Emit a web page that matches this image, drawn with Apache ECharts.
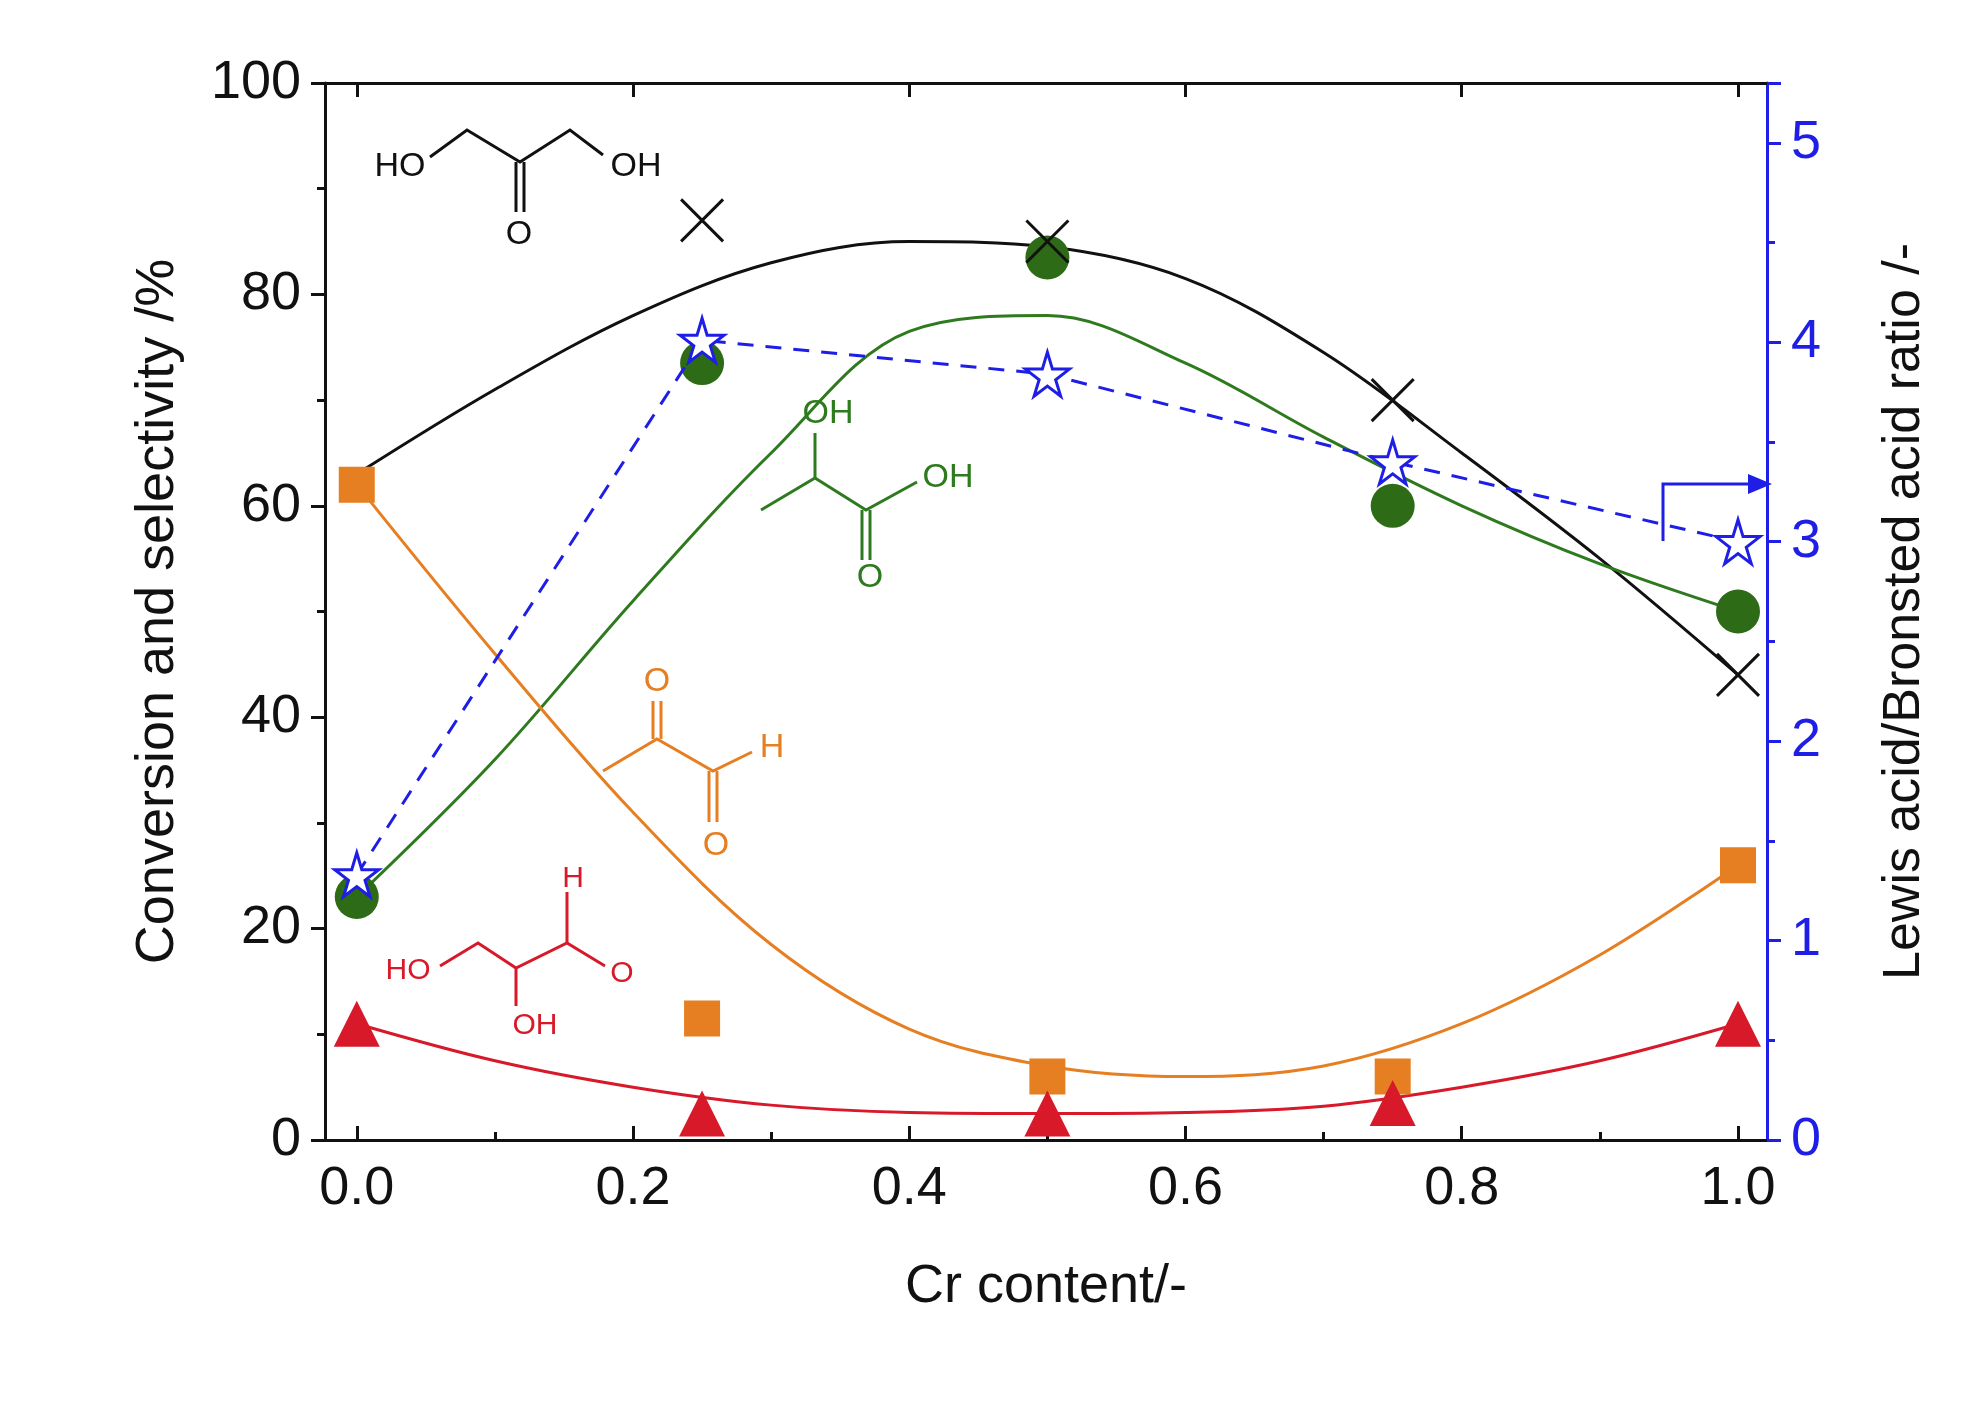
<!DOCTYPE html>
<html><head><meta charset="utf-8">
<script src="https://cdn.jsdelivr.net/npm/echarts@6/dist/echarts.min.js"></script>
<style>html,body{margin:0;background:#fff}#c{width:1988px;height:1410px}</style>
</head><body><div id="c"></div>
<script>
const xs = [0, 0.25, 0.5, 0.75, 1.0];
const conversion = [null, 87, 85, 70, 44];
const lacticAcid = [23, 73.5, 83.5, 60, 50];
const pyruvaldehyde = [62, 11.5, 6, 6, 26];
const glyceraldehyde = [11, 2.5, 2.5, 3.5, 11];
const lbRatio = [1.33, 4.01, 3.84, 3.40, 3.0];
// fitted curves as drawn in the figure
const fitX = [0, 0.1, 0.2, 0.3, 0.4, 0.5, 0.6, 0.7, 0.8, 0.9, 1.0];
const fitConversion = [63, 71, 78, 83, 85, 84.5, 81.5, 74.5, 65, 55, 44];
const fitLactic = [23, 36, 51, 65, 76.5, 78, 73.5, 66.5, 60, 54.5, 50];
const fitPyruv = [62, 46, 31, 18.5, 10.5, 7, 6, 7, 11, 17.5, 26];
const fitGlycer = [11, 7.5, 5, 3.3, 2.6, 2.5, 2.6, 3.2, 5, 7.5, 11];
const xTicks = [0, 0.2, 0.4, 0.6, 0.8, 1.0];
const xMinor = [0.1, 0.3, 0.5, 0.7, 0.9];

const pair = (x, y) => x.map((v, i) => [v, y[i]]).filter(p => p[1] != null);
const BLACK = '#111', GREEN = '#2e7a1e', GREEN_M = '#2d6b17', ORANGE = '#e67e22', RED = '#d7192a', BLUE = '#1e1ee6';
const F = 'Arial, "Liberation Sans", sans-serif';
const X_PATH = 'path://M0,0L10,10M10,0L0,10';
const STAR = 'path://M50,0 L61,35 L98,35 L68,57 L79,91 L50,70 L21,91 L32,57 L2,35 L39,35 Z';

function xAxisBase(extra) {
  return Object.assign({type: 'value', min: -0.023, max: 1.021, splitLine: {show: false},
    axisLine: {show: true, onZero: false, lineStyle: {color: BLACK, width: 3}}}, extra);
}
const chart = echarts.init(document.getElementById('c'));
function txt(x, y, t, c, size) {
  return {type: 'text', x: x, y: y, style: {text: t, fill: c, font: (size||34) + 'px ' + F, align: 'center', verticalAlign: 'middle'}};
}
function pl(pts, c) { return {type: 'polyline', shape: {points: pts}, style: {stroke: c, lineWidth: 3, fill: null}}; }
function dbl(x, y1, y2, c) { return [pl([[x-4, y1], [x-4, y2]], c), pl([[x+4, y1], [x+4, y2]], c)]; }
const graphics = [
  txt(400, 167, 'HO', BLACK), txt(636, 167, 'OH', BLACK), txt(519, 235, 'O', BLACK),
  pl([[430,157],[467,130],[520,162],[570,130],[603,155]], BLACK), ...dbl(520, 162, 212, BLACK),
  txt(828, 414, 'OH', GREEN), txt(948, 478, 'OH', GREEN), txt(870, 578, 'O', GREEN),
  pl([[761,510],[815,478],[866,510],[917,482]], GREEN), pl([[815,478],[815,433]], GREEN), ...dbl(866, 510, 560, GREEN),
  txt(657, 682, 'O', ORANGE), txt(772, 748, 'H', ORANGE), txt(716, 846, 'O', ORANGE),
  pl([[603,771],[657,739],[713,771],[752,752]], ORANGE), ...dbl(657, 739, 701, ORANGE), ...dbl(713, 771, 822, ORANGE),
  txt(408, 971, 'HO', RED, 30), txt(622, 974, 'O', RED, 30), txt(573, 879, 'H', RED, 30), txt(535, 1026, 'OH', RED, 30),
  pl([[440,966],[478,943],[516,968],[567,943],[605,966]], RED), pl([[567,943],[567,892]], RED), pl([[516,968],[516,1006]], RED),
  pl([[1663,541],[1663,484],[1752,484]], BLUE),
  {type: 'polygon', shape: {points: [[1772,484],[1748,474],[1748,494]]}, style: {fill: BLUE}}
];
chart.setOption({
  animation: false,
  backgroundColor: '#fff',
  grid: {left: 325, right: 221, top: 83, bottom: 270},
  xAxis: [
    xAxisBase({position: 'bottom', name: 'Cr content/-', nameLocation: 'middle', nameGap: 120,
      nameTextStyle: {color: BLACK, fontSize: 54, fontFamily: F},
      axisTick: {show: true, inside: true, length: 14, lineStyle: {width: 3, color: BLACK}, customValues: xTicks},
      axisLabel: {customValues: xTicks, fontSize: 54, color: BLACK, fontFamily: F, margin: 22, formatter: v => v.toFixed(1)}}),
    xAxisBase({position: 'bottom', axisTick: {show: true, inside: true, length: 8, lineStyle: {width: 3, color: BLACK}, customValues: xMinor},
      axisLabel: {show: false}}),
    xAxisBase({position: 'top', axisTick: {show: true, inside: true, length: 14, lineStyle: {width: 3, color: BLACK}, customValues: xTicks},
      axisLabel: {show: false}})
  ],
  yAxis: [
    {type: 'value', min: 0, max: 100, interval: 20, position: 'left',
      name: 'Conversion and selectivity /%', nameLocation: 'middle', nameGap: 140, nameRotate: 90,
      nameTextStyle: {color: BLACK, fontSize: 54, fontFamily: F},
      axisLine: {show: true, onZero: false, lineStyle: {color: BLACK, width: 3}},
      axisTick: {show: true, inside: false, length: 14, lineStyle: {width: 3}},
      minorTick: {show: true, splitNumber: 2, length: 8, lineStyle: {color: BLACK, width: 3}},
      splitLine: {show: false},
      axisLabel: {fontSize: 54, color: BLACK, fontFamily: F, margin: 24}},
    {type: 'value', min: 0, max: 5.3, interval: 1, position: 'right',
      name: 'Lewis acid/Bronsted acid ratio /-', nameLocation: 'middle', nameGap: 112, nameRotate: 90,
      nameTextStyle: {color: BLACK, fontSize: 52, fontFamily: F},
      axisLine: {show: true, onZero: false, lineStyle: {color: BLUE, width: 3}},
      axisTick: {show: true, inside: false, length: 14, lineStyle: {width: 3, color: BLUE}},
      minorTick: {show: true, splitNumber: 2, length: 8, lineStyle: {color: BLUE, width: 3}},
      splitLine: {show: false},
      axisLabel: {fontSize: 54, color: BLUE, fontFamily: F, margin: 24, formatter: v => Number.isInteger(v) ? v : ''}}
  ],
  graphic: graphics,
  series: [
    {type: 'line', smooth: 0.35, showSymbol: false, data: pair(fitX, fitConversion), lineStyle: {color: BLACK, width: 3}, z: 2},
    {type: 'line', smooth: 0.35, showSymbol: false, data: pair(fitX, fitLactic), lineStyle: {color: GREEN, width: 3}, z: 2},
    {type: 'line', smooth: 0.35, showSymbol: false, data: pair(fitX, fitPyruv), lineStyle: {color: ORANGE, width: 3}, z: 2},
    {type: 'line', smooth: 0.35, showSymbol: false, data: pair(fitX, fitGlycer), lineStyle: {color: RED, width: 3}, z: 2},
    {type: 'scatter', data: pair(xs, conversion), symbol: X_PATH, symbolSize: 42,
      itemStyle: {color: 'none', borderColor: BLACK, borderWidth: 3, opacity: 1}, z: 5},
    {type: 'scatter', data: pair(xs, lacticAcid), symbol: 'circle', symbolSize: 44, itemStyle: {color: GREEN_M, opacity: 1}, z: 4},
    {type: 'scatter', data: pair(xs, pyruvaldehyde), symbol: 'rect', symbolSize: 36, itemStyle: {color: ORANGE, opacity: 1}, z: 4},
    {type: 'scatter', data: pair(xs, glyceraldehyde), symbol: 'triangle', symbolSize: 46, itemStyle: {color: RED, opacity: 1}, z: 4},
    {type: 'line', yAxisIndex: 1, data: pair(xs, lbRatio), symbol: STAR, symbolSize: 44, showAllSymbol: true,
      lineStyle: {color: BLUE, width: 3, type: [16, 12]},
      itemStyle: {color: '#fff', borderColor: BLUE, borderWidth: 3}, z: 6}
  ]
});
</script></body></html>
